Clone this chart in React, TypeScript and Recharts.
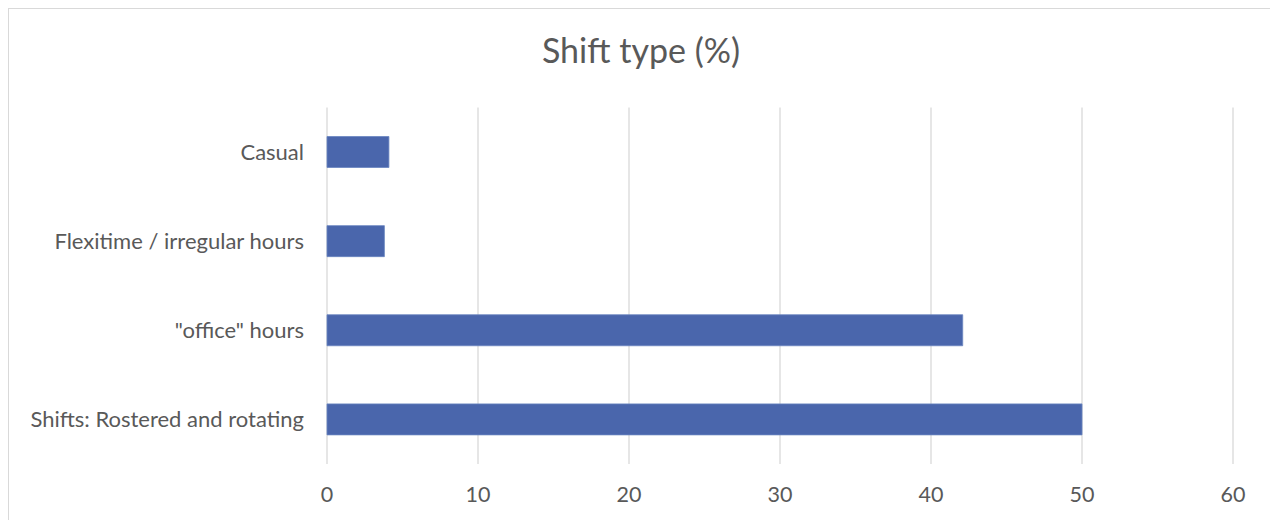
import { BarChart, Bar, XAxis, YAxis, CartesianGrid } from "recharts";

const categories = [
  "Casual",
  "Flexitime / irregular hours",
  "\"office\" hours",
  "Shifts: Rostered and rotating",
];
const shares = [4.1, 3.8, 42.1, 50.0];
const xTicks = [0, 10, 20, 30, 40, 50, 60];

const data = categories.map((name, i) => ({ name, value: shares[i] }));

const FONT = "Lato, 'Open Sans', sans-serif";
const TEXT = "#595959";

export default function App() {
  return (
    <div
      style={{
        position: "relative",
        width: 1264,
        height: 511,
        border: "1px solid #d9d9d9",
        borderBottom: "none",
        background: "#fff",
        fontFamily: FONT,
      }}
    >
      <div
        style={{
          position: "absolute",
          top: 20,
          left: 0,
          width: "100%",
          textAlign: "center",
          fontSize: 34,
          color: TEXT,
        }}
      >
        Shift type (%)
      </div>
      <BarChart
        width={1264}
        height={511}
        data={data}
        layout="vertical"
        margin={{ top: 98.5, right: 40, bottom: 26, left: 0 }}
      >
        <CartesianGrid horizontal={false} stroke="#d9d9d9" strokeWidth={1.3} />
        <XAxis
          type="number"
          domain={[0, 60]}
          ticks={xTicks}
          axisLine={false}
          tickLine={false}
          tickSize={0}
          tickMargin={23}
          height={30}
          tick={{ fill: TEXT, fontSize: 21.5, fontFamily: FONT }}
        />
        <YAxis
          type="category"
          dataKey="name"
          width={318}
          axisLine={false}
          tickLine={false}
          tickSize={0}
          tickMargin={23}
          tick={{ fill: TEXT, fontSize: 22, fontFamily: FONT }}
        />
        <Bar
          dataKey="value"
          fill="#4a66ac"
          stroke="#6a85c0"
          strokeWidth={0.8}
          barSize={31}
          isAnimationActive={false}
        />
      </BarChart>
    </div>
  );
}
